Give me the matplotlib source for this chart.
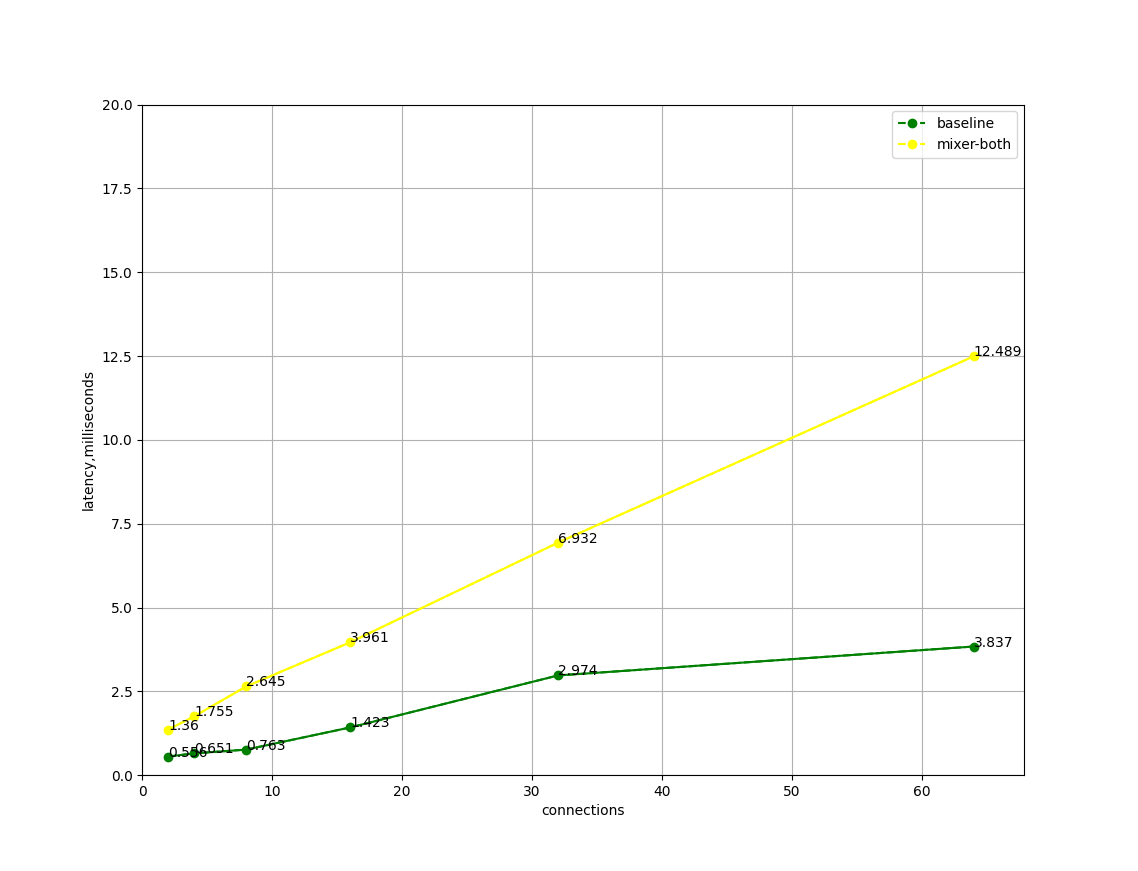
import matplotlib
matplotlib.use('Agg')
import matplotlib.pyplot as plt

connections = [2, 4, 8, 16, 32, 64]
baseline = [0.556, 0.651, 0.763, 1.423, 2.974, 3.837]
mixer_both = [1.36, 1.755, 2.645, 3.961, 6.932, 12.489]

series = [('baseline', baseline, 'green'), ('mixer-both', mixer_both, 'yellow')]

fig = plt.figure(figsize=(11.38, 8.71), dpi=100)
ax = fig.add_subplot(111)
for name, vals, col in series:
    ax.plot(connections, vals, marker='o', linestyle='--', color=col, label=name)
    ax.plot(connections, vals, color=col)
    for x, y in zip(connections, vals):
        ax.annotate(str(y), (x, y))

ax.set_xlim(0, 67.9)
ax.set_ylim(0, 20)
ax.set_xlabel('connections')
ax.set_ylabel('latency,milliseconds')
ax.grid(True)
ax.legend()
fig.savefig('out.png', dpi=100)
